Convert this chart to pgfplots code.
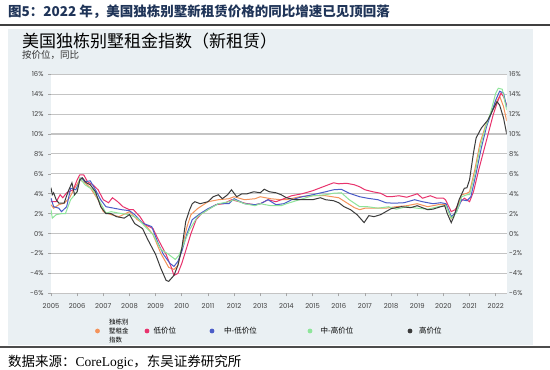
\documentclass[border=0pt]{standalone}
\usepackage{fontspec}
\usepackage{pgfplots}
\pgfplotsset{compat=1.18}
\newfontfamily\cjk{Noto Sans CJK SC}
\newfontfamily\pop{Poppins}
\newfontfamily\lser{Liberation Serif}
\definecolor{panel}{HTML}{EAF0F3}
\definecolor{navy}{HTML}{1F3458}
\definecolor{cOr}{HTML}{F4935B}
\definecolor{cPk}{HTML}{E8336D}
\definecolor{cBl}{HTML}{4B5DC8}
\definecolor{cGr}{HTML}{8EE59A}
\definecolor{cBk}{HTML}{3B3B3B}
\definecolor{gridc}{HTML}{C4C4C4}
\begin{document}
\begin{tikzpicture}
\useasboundingbox (0,0) rectangle (550pt,370pt);
% header
\node[anchor=base west, text=navy, inner sep=0pt] at (8pt,353pt) {\cjk\bfseries\fontsize{13.5}{15}\selectfont 图5：2022 年，美国独栋别墅新租赁价格的同比增速已见顶回落};
\draw[line width=1.6pt, color=black!75] (0,345pt) -- (550pt,345pt);
% panel
\fill[panel] (8pt,24.5pt) rectangle (533pt,341pt);
\node[anchor=west, inner sep=0pt] at (22pt,329pt) {\cjk\fontsize{17}{19}\selectfont 美国独栋别墅租金指数（新租赁）};
\node[anchor=west, inner sep=0pt, text=black!80] at (22pt,315.4pt) {\cjk\fontsize{9.5}{10}\selectfont 按价位，同比};
% bottom
\draw[line width=1.6pt, color=black!70] (0,23pt) -- (550pt,23pt);
\node[anchor=west, inner sep=0pt] at (8pt,8pt) {\cjk\fontsize{13.5}{15}\selectfont 数据来源：{\lser CoreLogic}，东吴证券研究所};
% legend
\fill[cOr] (97.5pt,39pt) circle (2.4pt);
\node[anchor=west, inner sep=0pt, align=left, font={\cjk\fontsize{6.5}{8.6}\selectfont}] at (109pt,39pt) {独栋别\\墅租金\\指数};
\fill[cPk] (147pt,39pt) circle (2.4pt);
\node[anchor=west, inner sep=0pt, font={\cjk\fontsize{7.5}{8}\selectfont}] at (153.5pt,39pt) {低价位};
\fill[cBl] (212pt,39pt) circle (2.4pt);
\node[anchor=west, inner sep=0pt, font={\cjk\fontsize{7.5}{8}\selectfont}] at (224pt,39pt) {中-低价位};
\fill[cGr] (310pt,39pt) circle (2.4pt);
\node[anchor=west, inner sep=0pt, font={\cjk\fontsize{7.5}{8}\selectfont}] at (320.5pt,39pt) {中-高价位};
\fill[cBk] (410pt,39pt) circle (2.4pt);
\node[anchor=west, inner sep=0pt, font={\cjk\fontsize{7.5}{8}\selectfont}] at (419pt,39pt) {高价位};

\begin{axis}[
  at={(51pt,76.7pt)}, anchor=south west, scale only axis,
  width=455.7pt, height=219pt,
  xmin=2005, xmax=2022.42, ymin=-6, ymax=16,
  axis background/.style={fill=white},
  axis line style={draw=none},
  ytick={-6,-4,...,16},
  yticklabels={-6\%,-4\%,-2\%,0\%,2\%,4\%,6\%,8\%,10\%,12\%,14\%,16\%},
  xtick={2005,2006,2007,2008,2009,2010,2011,2012,2013,2014,2015,2016,2017,2018,2019,2020,2021,2022},
  xticklabels={2005,2006,2007,2008,2009,2010,2011,2012,2013,2014,2015,2016,2017,2018,2019,2020,2021,2022},
  ymajorgrids, grid style={gridc, line width=1.1pt},
  tick style={gray!70, line width=0.6pt}, major tick length=3pt,
  tick align=outside, xtick pos=bottom, ytick pos=left,
  ticklabel style={font=\pop\fontsize{6.8}{7}\selectfont, text=black!75},
  xticklabel style={yshift=-3.5pt},
  yticklabel style={xshift=-1pt},
  every axis plot/.append style={line width=1pt, no markers},
]
\addplot[cOr] coordinates {(2005.0,2.9)(2005.1,2.55)(2005.3,2.9)(2005.5,3.05)(2005.7,3.55)(2005.9,4.55)(2006.1,5.4)(2006.3,5.1)(2006.5,4.6)(2006.8,3.4)(2007.0,2.2)(2007.3,1.9)(2007.6,1.7)(2008.0,2.2)(2008.3,1.4)(2008.6,0.9)(2008.9,-0.1)(2009.2,-2.0)(2009.5,-3.4)(2009.7,-3.6)(2009.85,-3.2)(2010.0,-1.5)(2010.2,0.7)(2010.35,1.9)(2010.6,2.5)(2011.0,3.2)(2011.4,3.4)(2011.8,3.5)(2012.0,3.7)(2012.4,3.4)(2012.8,3.5)(2013.0,3.7)(2013.4,3.5)(2013.8,3.4)(2014.0,3.4)(2014.5,3.7)(2015.0,3.8)(2015.5,3.8)(2016.0,3.6)(2016.3,3.1)(2016.6,2.6)(2016.8,2.4)(2017.0,2.55)(2017.4,2.55)(2017.8,2.55)(2018.2,2.7)(2018.6,2.8)(2019.0,3.0)(2019.4,2.7)(2019.8,2.9)(2020.1,2.9)(2020.3,1.5)(2020.45,2.0)(2020.7,3.9)(2020.9,4.05)(2021.0,4.2)(2021.2,6.4)(2021.4,9.1)(2021.6,10.75)(2021.8,11.9)(2022.0,13.1)(2022.15,13.8)(2022.3,12.75)(2022.42,11.3)};
\addplot[cPk] coordinates {(2005.0,3.2)(2005.2,3.2)(2005.35,3.9)(2005.45,3.6)(2005.6,4.1)(2005.85,4.4)(2006.0,5.4)(2006.1,5.9)(2006.25,5.9)(2006.4,5.2)(2006.6,4.9)(2006.8,4.4)(2007.0,3.4)(2007.2,3.1)(2007.35,3.6)(2007.55,3.2)(2007.75,2.7)(2008.0,2.4)(2008.15,2.4)(2008.4,1.7)(2008.6,0.9)(2008.9,0.5)(2009.1,-0.6)(2009.4,-2.1)(2009.6,-3.4)(2009.7,-4.2)(2009.85,-4.0)(2010.0,-3.0)(2010.2,-1.3)(2010.35,0.0)(2010.55,1.4)(2010.75,2.0)(2011.0,2.4)(2011.3,2.9)(2011.6,3.0)(2011.9,3.4)(2012.2,3.2)(2012.5,3.0)(2012.8,2.9)(2013.0,3.0)(2013.3,3.4)(2013.6,3.2)(2013.9,3.5)(2014.2,3.8)(2014.6,4.0)(2015.0,4.3)(2015.3,4.6)(2015.6,4.9)(2015.8,5.1)(2016.0,5.0)(2016.3,5.05)(2016.6,4.9)(2016.8,4.7)(2017.0,4.4)(2017.3,4.2)(2017.6,4.05)(2017.85,3.7)(2018.0,3.7)(2018.3,3.8)(2018.6,3.65)(2018.9,3.9)(2019.0,4.0)(2019.2,3.55)(2019.5,3.8)(2019.75,3.55)(2020.0,3.55)(2020.08,3.4)(2020.3,2.2)(2020.45,2.4)(2020.6,3.05)(2020.8,3.55)(2021.0,3.2)(2021.15,4.2)(2021.35,6.4)(2021.55,8.4)(2021.75,10.4)(2021.9,11.9)(2022.05,13.1)(2022.2,14.1)(2022.3,13.75)(2022.42,12.9)};
\addplot[cBl] coordinates {(2005.0,3.55)(2005.1,2.7)(2005.3,2.55)(2005.4,2.2)(2005.6,2.7)(2005.75,4.55)(2005.95,4.4)(2006.15,5.6)(2006.3,5.2)(2006.5,5.3)(2006.7,4.4)(2006.9,3.4)(2007.1,2.7)(2007.4,2.55)(2007.7,2.4)(2008.0,2.3)(2008.2,1.9)(2008.5,1.05)(2008.85,0.7)(2009.1,-1.0)(2009.3,-2.1)(2009.55,-3.0)(2009.7,-3.3)(2009.85,-2.8)(2010.0,-1.8)(2010.2,0.0)(2010.4,1.4)(2010.7,2.0)(2011.0,2.5)(2011.4,3.0)(2011.8,3.0)(2012.0,3.5)(2012.4,3.0)(2012.8,2.9)(2013.0,3.0)(2013.3,3.4)(2013.6,2.9)(2013.9,3.0)(2014.2,3.4)(2014.6,3.7)(2015.0,3.9)(2015.5,4.2)(2015.8,4.4)(2016.1,4.45)(2016.4,4.05)(2016.8,3.7)(2017.1,3.55)(2017.5,3.4)(2017.8,3.1)(2018.1,3.05)(2018.5,3.1)(2018.9,3.4)(2019.2,3.2)(2019.6,3.0)(2019.9,3.1)(2020.1,3.0)(2020.3,1.7)(2020.5,2.2)(2020.7,3.4)(2020.9,3.3)(2021.05,3.7)(2021.25,6.05)(2021.45,8.6)(2021.65,10.75)(2021.85,12.25)(2022.0,13.4)(2022.15,14.3)(2022.3,14.1)(2022.42,12.7)};
\addplot[cGr] coordinates {(2005.0,2.4)(2005.05,1.55)(2005.2,1.9)(2005.4,2.0)(2005.55,2.0)(2005.75,3.4)(2006.0,4.2)(2006.1,5.6)(2006.3,4.9)(2006.6,4.4)(2006.9,3.05)(2007.1,2.05)(2007.3,2.2)(2007.6,2.05)(2008.0,1.9)(2008.3,1.55)(2008.6,0.7)(2008.9,-0.1)(2009.2,-1.6)(2009.45,-2.0)(2009.6,-2.3)(2009.75,-2.6)(2009.9,-2.15)(2010.0,-1.5)(2010.3,0.4)(2010.6,1.7)(2011.0,2.4)(2011.4,3.0)(2011.8,3.2)(2012.0,3.4)(2012.4,3.0)(2012.8,2.8)(2013.0,3.0)(2013.4,2.8)(2013.8,2.8)(2014.0,3.0)(2014.5,3.4)(2015.0,3.8)(2015.5,3.9)(2015.8,4.05)(2016.1,4.1)(2016.4,3.4)(2016.8,2.7)(2017.1,2.7)(2017.5,2.55)(2017.9,2.7)(2018.2,2.45)(2018.6,2.7)(2019.0,2.55)(2019.4,2.45)(2019.8,2.7)(2020.1,2.8)(2020.3,1.55)(2020.5,2.1)(2020.7,3.7)(2020.9,3.9)(2021.0,3.9)(2021.2,5.9)(2021.4,8.6)(2021.6,10.6)(2021.8,12.1)(2022.0,14.1)(2022.1,14.6)(2022.25,14.5)(2022.42,12.4)};
\addplot[cBk] coordinates {(2005.0,4.6)(2005.05,3.9)(2005.1,4.1)(2005.2,3.4)(2005.3,3.05)(2005.5,3.05)(2005.65,4.2)(2005.8,5.1)(2005.9,3.9)(2006.0,4.2)(2006.1,5.4)(2006.2,5.6)(2006.35,5.1)(2006.5,4.9)(2006.7,4.2)(2006.9,2.7)(2007.1,2.0)(2007.3,2.0)(2007.5,1.7)(2007.8,1.55)(2008.0,1.9)(2008.2,1.0)(2008.5,0.5)(2008.7,-0.6)(2009.0,-2.1)(2009.2,-3.5)(2009.4,-4.7)(2009.5,-4.8)(2009.7,-4.2)(2009.85,-3.2)(2010.0,-1.5)(2010.15,1.2)(2010.3,2.4)(2010.4,3.0)(2010.5,3.2)(2010.7,3.0)(2011.0,3.2)(2011.2,3.7)(2011.4,3.9)(2011.55,3.5)(2011.75,3.9)(2011.9,4.4)(2012.1,3.7)(2012.3,4.0)(2012.5,4.0)(2012.75,4.2)(2013.0,4.1)(2013.15,4.45)(2013.35,4.2)(2013.6,4.1)(2013.8,3.9)(2014.0,3.6)(2014.3,3.4)(2014.6,3.4)(2015.0,3.4)(2015.3,3.6)(2015.5,3.4)(2015.8,3.3)(2016.0,3.1)(2016.2,2.7)(2016.45,2.4)(2016.7,1.9)(2016.97,1.1)(2017.15,1.8)(2017.35,1.7)(2017.6,1.9)(2017.8,2.2)(2018.0,2.5)(2018.4,2.7)(2018.75,2.6)(2019.0,2.8)(2019.4,2.4)(2019.6,2.45)(2019.9,2.7)(2020.05,2.8)(2020.15,2.0)(2020.3,1.1)(2020.4,1.7)(2020.6,3.4)(2020.8,4.55)(2020.9,4.6)(2021.0,5.4)(2021.15,8.1)(2021.25,9.6)(2021.45,10.6)(2021.7,11.4)(2021.95,12.75)(2022.05,13.25)(2022.15,12.9)(2022.3,11.6)(2022.42,10.0)};
\end{axis}
\begin{axis}[
  at={(51pt,76.7pt)}, anchor=south west, scale only axis,
  width=455.7pt, height=219pt,
  xmin=2005, xmax=2022.42, ymin=-6, ymax=16,
  axis line style={draw=none},
  hide x axis,
  axis y line*=right,
  ytick={-6,-4,...,16},
  yticklabels={-6\%,-4\%,-2\%,0\%,2\%,4\%,6\%,8\%,10\%,12\%,14\%,16\%},
  major tick length=0pt,
  ticklabel style={font=\pop\fontsize{6.8}{7}\selectfont, text=black!75},
  yticklabel style={xshift=-1pt},
]
\end{axis}
\end{tikzpicture}
\end{document}
